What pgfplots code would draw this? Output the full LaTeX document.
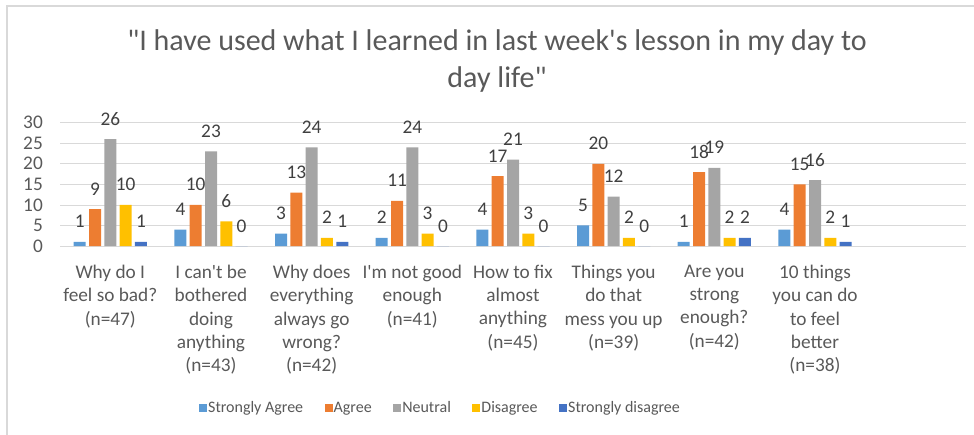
\documentclass[border=0pt]{standalone}
\usepackage{pgfplots}
\pgfplotsset{compat=1.18}
\usepackage{fontspec}
\setmainfont{Carlito}[Ligatures=TeXOff]
\definecolor{txt}{HTML}{595959}
\definecolor{dtxt}{HTML}{404040}
\definecolor{gridc}{HTML}{D9D9D9}
\definecolor{cSA}{HTML}{5B9BD5}
\definecolor{cA}{HTML}{ED7D31}
\definecolor{cN}{HTML}{A5A5A5}
\definecolor{cD}{HTML}{FFC000}
\definecolor{cSD}{HTML}{4472C4}
\newcommand{\lbl}{\fontsize{19.3}{23.2}\selectfont}
\newcommand{\lgd}{\fontsize{16}{19}\selectfont}
\begin{document}
\begin{tikzpicture}
\path[use as bounding box] (0pt,0pt) rectangle (974pt,-435pt);
\draw[gridc, line width=1.5pt] (7pt,-435pt) -- (7pt,-6pt) -- (974pt,-6pt);
\node[anchor=base, text=txt, font=\fontsize{30}{37}\selectfont] at (497pt,-50.7pt) {"I have used what I learned in last week's lesson in my day to};
\node[anchor=base, text=txt, font=\fontsize{30}{37}\selectfont] at (497pt,-88pt) {day life"};
\begin{axis}[
  at={(60pt,-246pt)}, anchor=south west,
  width=906pt, height=123.3pt, scale only axis,
  ybar=3.3pt, bar width=12pt,
  xmin=-0.5, xmax=8.5, ymin=0, ymax=30,
  ytick={0,5,...,30},
  xtick={0,...,7},
  xticklabels={{Why do I\\feel so bad?\\(n=47)},
    {I can't be\\bothered\\doing\\anything\\(n=43)},
    {Why does\\everything\\always go\\wrong?\\(n=42)},
    {I'm not good\\enough\\(n=41)},
    {How to fix\\almost\\anything\\(n=45)},
    {Things you\\do that\\mess you up\\(n=39)},
    {Are you\\strong\\enough?\\(n=42)},
    {10 things\\you can do\\to feel\\better\\(n=38)}},
  xticklabel style={align=center, anchor=north, inner sep=0pt, yshift=-19pt, font=\lbl, text=txt},
  yticklabel style={anchor=east, inner sep=0pt, xshift=-17pt, font=\lbl, text=txt},
  /pgf/number format/assume math mode=true,
  major tick length=0pt,
  axis line style={draw=none},
  ymajorgrids, grid style={gridc, line width=0.8pt},
  nodes near coords,
  every node near coord/.append style={font=\lbl, text=dtxt, anchor=base, inner sep=0pt, yshift=14pt},
  every axis plot post/.append style={draw=none, legend image code/.code={\fill[##1] (0pt,-4pt) rectangle (8pt,4pt);}},
  legend style={at={(axis description cs:0.1534,-1.314)}, anchor=west, draw=none, inner sep=0pt, font=\lgd, text=txt, legend columns=5, /tikz/every even column/.append style={column sep=19.5pt}, /tikz/every odd column/.append style={column sep=-1pt}},
  legend cell align=left,
]
\addplot[fill=cSA] coordinates {(0,1) (1,4) (2,3) (3,2) (4,4) (5,5) (6,1) (7,4)};
\addplot[fill=cA] coordinates {(0,9) (1,10) (2,13) (3,11) (4,17) (5,20) (6,18) (7,15)};
\addplot[fill=cN] coordinates {(0,26) (1,23) (2,24) (3,24) (4,21) (5,12) (6,19) (7,16)};
\addplot[fill=cD] coordinates {(0,10) (1,6) (2,2) (3,3) (4,3) (5,2) (6,2) (7,2)};
\addplot[fill=cSD] coordinates {(0,1) (1,0) (2,1) (3,0) (4,0) (5,0) (6,2) (7,1)};
\legend{Strongly Agree, Agree, Neutral, Disagree, Strongly disagree}
\end{axis}
\end{tikzpicture}
\end{document}
